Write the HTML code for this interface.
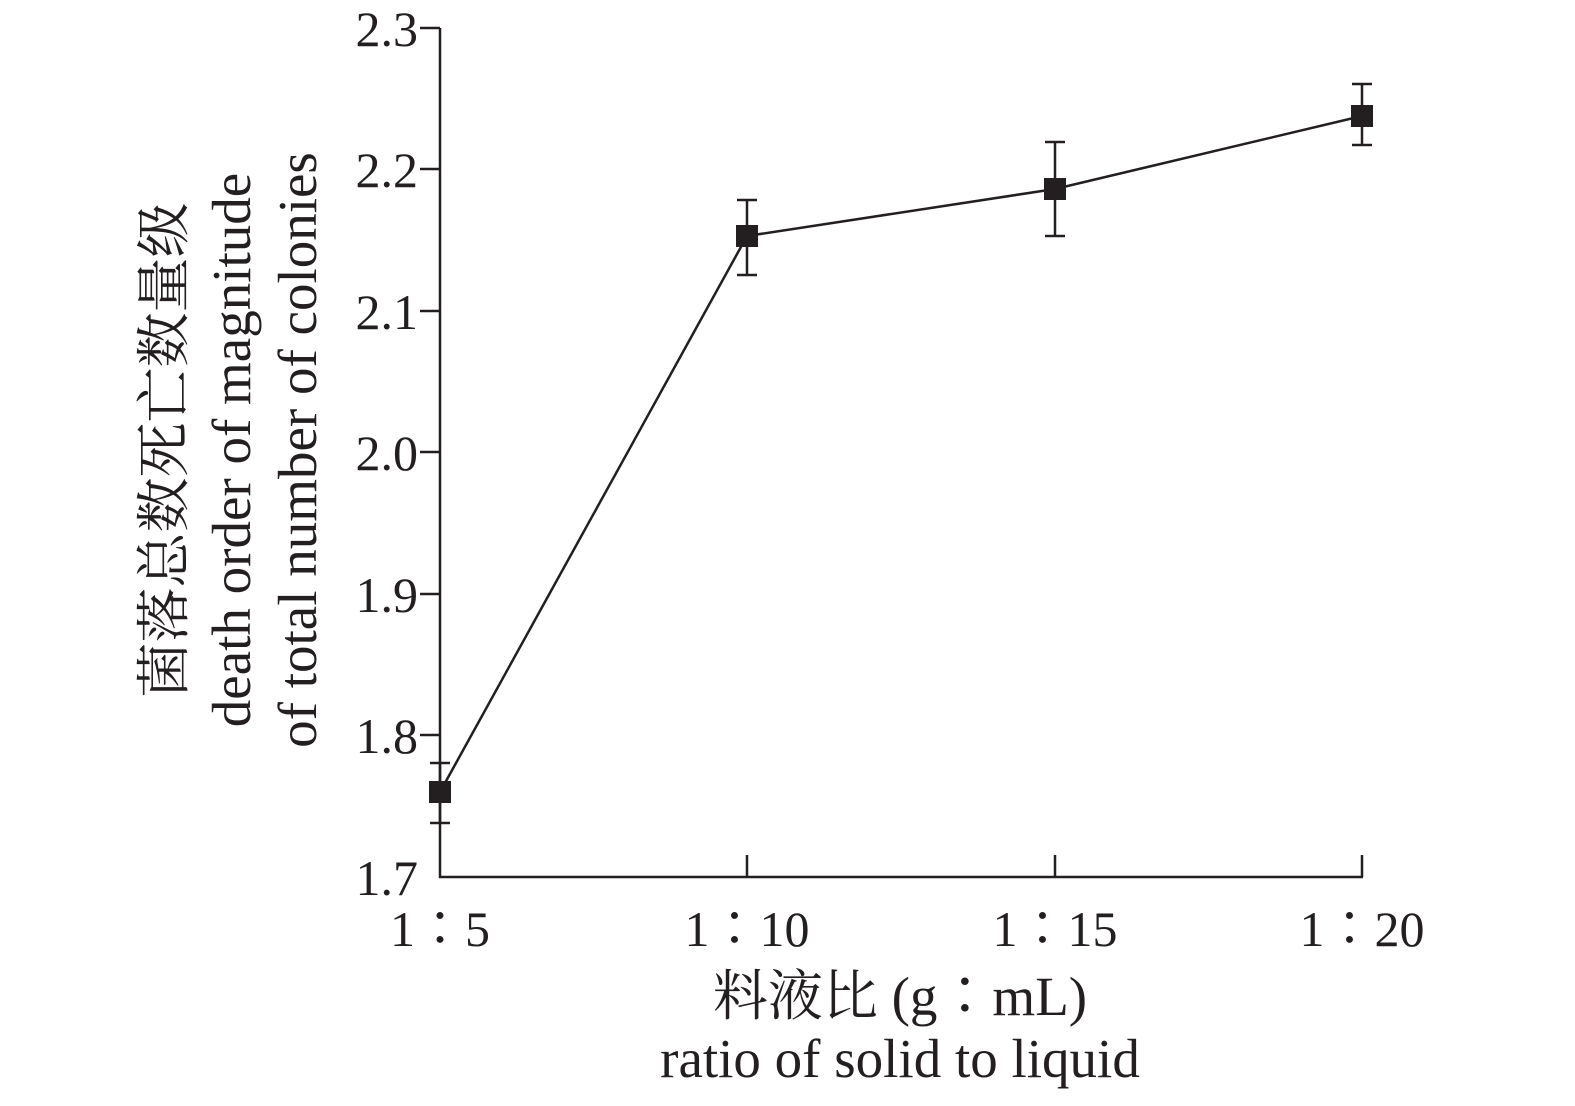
<!DOCTYPE html>
<html><head><meta charset="utf-8"><style>body{margin:0;background:#fff}</style></head><body>
<svg width="1575" height="1101" xmlns="http://www.w3.org/2000/svg" font-family="Liberation Serif, Noto Serif CJK SC, serif" fill="#231f20">
<g stroke="#231f20" stroke-width="2.5" fill="none">
<line x1="440" y1="28" x2="440" y2="878"/>
<line x1="439" y1="877" x2="1363" y2="877"/>
<line x1="420" y1="28" x2="440" y2="28"/>
<line x1="420" y1="169" x2="440" y2="169"/>
<line x1="420" y1="311" x2="440" y2="311"/>
<line x1="420" y1="452" x2="440" y2="452"/>
<line x1="420" y1="594" x2="440" y2="594"/>
<line x1="420" y1="735" x2="440" y2="735"/>
<line x1="747" y1="855" x2="747" y2="877"/>
<line x1="1055" y1="855" x2="1055" y2="877"/>
<line x1="1362" y1="855" x2="1362" y2="877"/>
<polyline points="440,792 747,236 1055,189 1362,116"/>
<path d="M440,763V823M430,763H450M430,823H450"/>
<path d="M747,200V275M737,200H757M737,275H757"/>
<path d="M1055,142V236M1045,142H1065M1045,236H1065"/>
<path d="M1362,84V145M1352,84H1372M1352,145H1372"/>
</g>
<g>
<rect x="429" y="781" width="22" height="22"/>
<rect x="736" y="225" width="22" height="22"/>
<rect x="1044" y="178" width="22" height="22"/>
<rect x="1351" y="105" width="22" height="22"/>
</g>
<g font-size="50" text-anchor="end">
<text x="418" y="46">2.3</text><text x="418" y="187">2.2</text><text x="418" y="329">2.1</text>
<text x="418" y="470">2.0</text><text x="418" y="612">1.9</text><text x="418" y="753">1.8</text><text x="418" y="895">1.7</text>
</g>
<g font-size="50" text-anchor="middle">
<text x="440" y="946">1∶5</text><text x="747" y="946">1∶10</text>
<text x="1055" y="946">1∶15</text><text x="1362" y="946">1∶20</text>
</g>
<g font-size="55" text-anchor="middle">
<text x="900" y="1015">料液比 (g∶mL)</text>
<text x="900" y="1077">ratio of solid to liquid</text>
<g transform="rotate(-90)">
<text x="-450" y="183">菌落总数死亡数量级</text>
<text x="-450" y="250">death order of magnitude</text>
<text x="-450" y="316">of total number of colonies</text>
</g>
</g>
</svg>
</body></html>
